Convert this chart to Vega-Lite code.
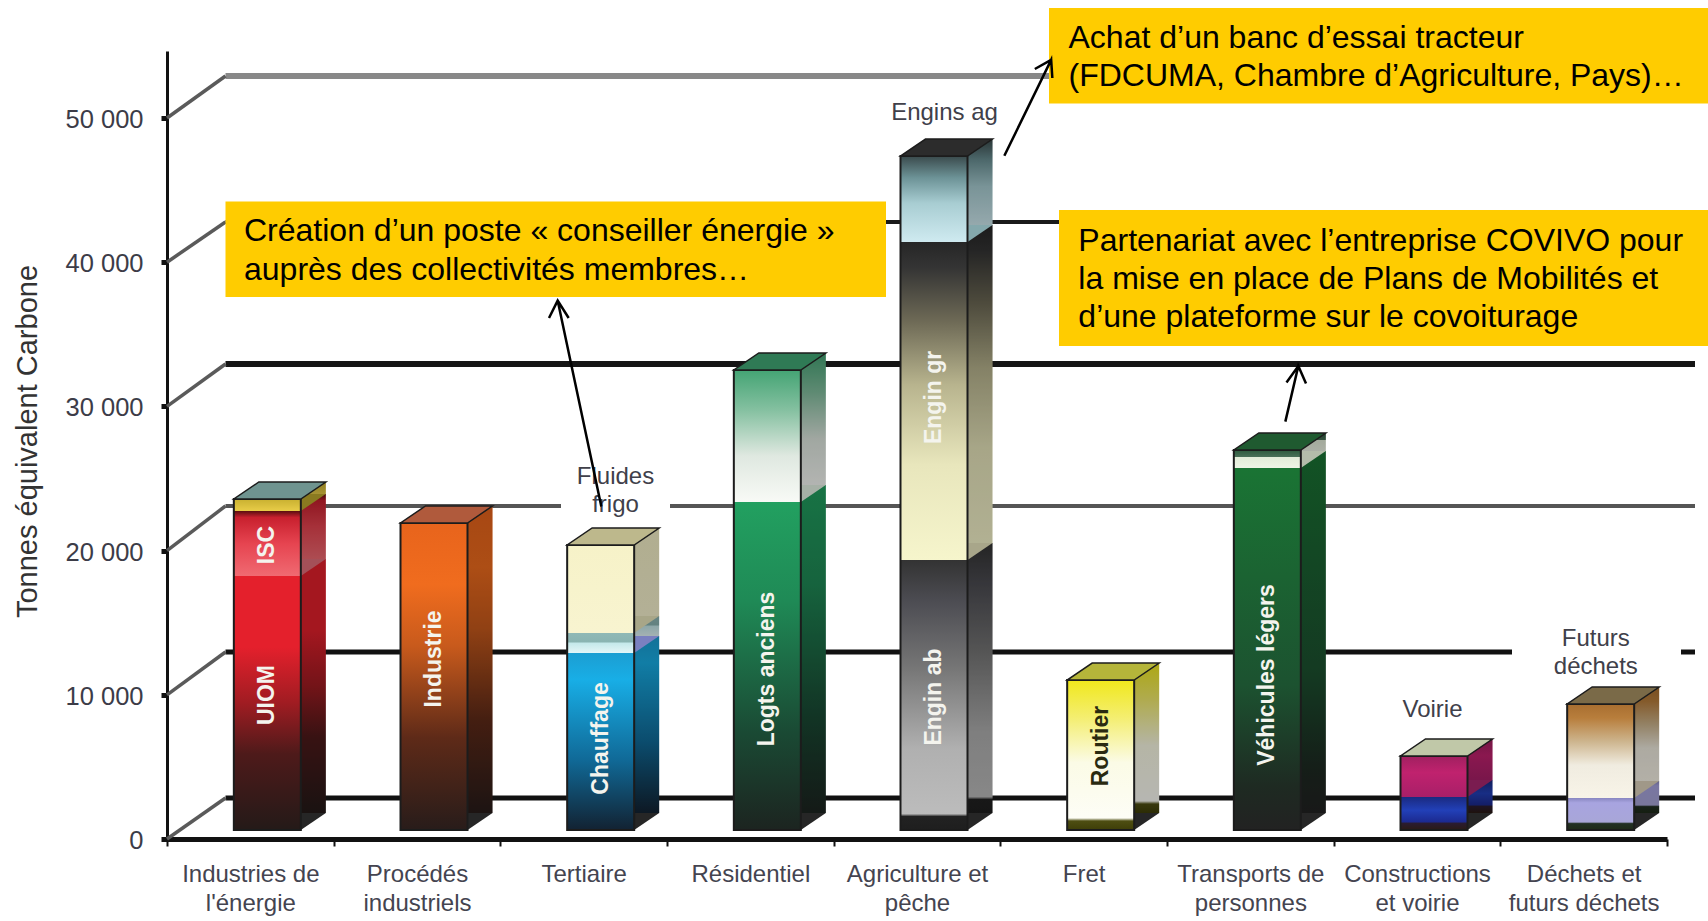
{
"$schema":"https://vega.github.io/schema/vega-lite/v6.json",
"width":1708,"height":921,"autosize":"none","padding":0,"background":"white",
"config":{"font":"Liberation Sans","view":{"stroke":null}},
"params":[
{"name":"gUIOM","expr":"{gradient:'linear',x1:0,y1:1,x2:0,y2:0,stops:[{offset:0,color:'#241a18'},{offset:0.3,color:'#4e1a1a'},{offset:0.5,color:'#a01c22'},{offset:0.72,color:'#e4202c'},{offset:1,color:'#e4202c'}]}"},
{"name":"gISC","expr":"{gradient:'linear',x1:0,y1:1,x2:0,y2:0,stops:[{offset:0,color:'#f06a72'},{offset:0.5,color:'#e64450'},{offset:0.9,color:'#c8202e'},{offset:1,color:'#5a0e10'}]}"},
{"name":"gJaune","expr":"{gradient:'linear',x1:0,y1:1,x2:0,y2:0,stops:[{offset:0,color:'#e8cc48'},{offset:1,color:'#c8b030'}]}"},
{"name":"gInd","expr":"{gradient:'linear',x1:0,y1:1,x2:0,y2:0,stops:[{offset:0,color:'#281c1a'},{offset:0.3,color:'#5e2a18'},{offset:0.6,color:'#c85a1c'},{offset:0.8,color:'#f06c1e'},{offset:1,color:'#e8641c'}]}"},
{"name":"gChauf","expr":"{gradient:'linear',x1:0,y1:1,x2:0,y2:0,stops:[{offset:0,color:'#122232'},{offset:0.4,color:'#106a98'},{offset:0.85,color:'#18aee6'},{offset:1,color:'#1c9ed2'}]}"},
{"name":"gFluide","expr":"{gradient:'linear',x1:0,y1:1,x2:0,y2:0,stops:[{offset:0,color:'#e4f6f8'},{offset:0.5,color:'#c4e8ea'},{offset:0.55,color:'#8ab4b2'},{offset:1,color:'#8fb8b6'}]}"},
{"name":"gFrigo","expr":"{gradient:'linear',x1:0,y1:1,x2:0,y2:0,stops:[{offset:0,color:'#f8f4d0'},{offset:1,color:'#f6f2c8'}]}"},
{"name":"gLogts","expr":"{gradient:'linear',x1:0,y1:1,x2:0,y2:0,stops:[{offset:0,color:'#1c2420'},{offset:0.3,color:'#1a4a34'},{offset:0.7,color:'#1f8a56'},{offset:1,color:'#22a060'}]}"},
{"name":"gLogtsH","expr":"{gradient:'linear',x1:0,y1:1,x2:0,y2:0,stops:[{offset:0,color:'#f8faf6'},{offset:0.35,color:'#dfe8e0'},{offset:0.7,color:'#84c0a0'},{offset:1,color:'#44a474'}]}"},
{"name":"gEnginB","expr":"{gradient:'linear',x1:0,y1:1,x2:0,y2:0,stops:[{offset:0,color:'#1e1e1e'},{offset:0.05,color:'#222222'},{offset:0.06,color:'#bcbcbc'},{offset:0.3,color:'#b0b0b0'},{offset:0.6,color:'#767676'},{offset:0.85,color:'#4c4c52'},{offset:1,color:'#333333'}]}"},
{"name":"gEnginM","expr":"{gradient:'linear',x1:0,y1:1,x2:0,y2:0,stops:[{offset:0,color:'#f6f5cc'},{offset:0.3,color:'#e8e6bc'},{offset:0.55,color:'#b8b48e'},{offset:0.75,color:'#6e6a56'},{offset:0.92,color:'#343434'},{offset:1,color:'#262626'}]}"},
{"name":"gEnginH","expr":"{gradient:'linear',x1:0,y1:1,x2:0,y2:0,stops:[{offset:0,color:'#cfeaf0'},{offset:0.45,color:'#a8cdd2'},{offset:0.75,color:'#6c9296'},{offset:1,color:'#3a4a4c'}]}"},
{"name":"gRoutier","expr":"{gradient:'linear',x1:0,y1:1,x2:0,y2:0,stops:[{offset:0,color:'#3e3e08'},{offset:0.06,color:'#4e4e12'},{offset:0.08,color:'#fdfdf6'},{offset:0.45,color:'#fbfbe6'},{offset:0.75,color:'#f4ee70'},{offset:1,color:'#f0e81c'}]}"},
{"name":"gVehic","expr":"{gradient:'linear',x1:0,y1:1,x2:0,y2:0,stops:[{offset:0,color:'#222222'},{offset:0.12,color:'#1e2a22'},{offset:0.4,color:'#1c5230'},{offset:1,color:'#1a7434'}]}"},
{"name":"gVehicH","expr":"{gradient:'linear',x1:0,y1:1,x2:0,y2:0,stops:[{offset:0,color:'#eef4e6'},{offset:0.6,color:'#e2ecd8'},{offset:0.62,color:'#4a7058'},{offset:1,color:'#2c5a3c'}]}"},
{"name":"gVoirieB","expr":"{gradient:'linear',x1:0,y1:1,x2:0,y2:0,stops:[{offset:0,color:'#2a1a14'},{offset:0.2,color:'#2a1c30'},{offset:0.25,color:'#1c2a90'},{offset:0.6,color:'#2240b8'},{offset:1,color:'#1a2a80'}]}"},
{"name":"gVoirieH","expr":"{gradient:'linear',x1:0,y1:1,x2:0,y2:0,stops:[{offset:0,color:'#a81f68'},{offset:0.6,color:'#c0226e'},{offset:1,color:'#a02060'}]}"},
{"name":"gDechB","expr":"{gradient:'linear',x1:0,y1:1,x2:0,y2:0,stops:[{offset:0,color:'#1e2a18'},{offset:0.2,color:'#223024'},{offset:0.25,color:'#a8a6d8'},{offset:0.85,color:'#a8a4e0'},{offset:1,color:'#8886c0'}]}"},
{"name":"gDechH","expr":"{gradient:'linear',x1:0,y1:1,x2:0,y2:0,stops:[{offset:0,color:'#f8f4e8'},{offset:0.35,color:'#f0ece0'},{offset:0.6,color:'#cdb58e'},{offset:0.85,color:'#b87e3c'},{offset:1,color:'#a86e30'}]}"}
],
"datasets":{
"cats":[
{"categorie":"Industries de|l'énergie","total":22954,"base":0,"sommet":"a"},
{"categorie":"Procédés|industriels","total":21290,"base":0,"sommet":"b"},
{"categorie":"Tertiaire","total":19764,"base":0,"sommet":"c"},
{"categorie":"Résidentiel","total":31900,"base":0,"sommet":"d"},
{"categorie":"Agriculture et|pêche","total":46740,"base":0,"sommet":"e"},
{"categorie":"Fret","total":10400,"base":0,"sommet":"f"},
{"categorie":"Transports de|personnes","total":26352,"base":0,"sommet":"g"},
{"categorie":"Constructions|et voirie","total":5132,"base":0,"sommet":"h"},
{"categorie":"Déchets et|futurs déchets","total":8738,"base":0,"sommet":"i"}
],
"segments":[
{"categorie":"Industries de|l'énergie","segment":"UIOM","debut":0,"fin":17614},
{"categorie":"Industries de|l'énergie","segment":"ISC","debut":17614,"fin":22122},
{"categorie":"Industries de|l'énergie","segment":"Autres","debut":22122,"fin":22954},
{"categorie":"Procédés|industriels","segment":"Industrie","debut":0,"fin":21290},
{"categorie":"Tertiaire","segment":"Chauffage","debut":0,"fin":12275},
{"categorie":"Tertiaire","segment":"Fluides","debut":12275,"fin":13660},
{"categorie":"Tertiaire","segment":"Frigo","debut":13660,"fin":19764},
{"categorie":"Résidentiel","segment":"Logts anciens","debut":0,"fin":22746},
{"categorie":"Résidentiel","segment":"Logts récents","debut":22746,"fin":31900},
{"categorie":"Agriculture et|pêche","segment":"Engin ab","debut":0,"fin":18724},
{"categorie":"Agriculture et|pêche","segment":"Engin gr","debut":18724,"fin":40776},
{"categorie":"Agriculture et|pêche","segment":"Engins ag","debut":40776,"fin":46740},
{"categorie":"Fret","segment":"Routier","debut":0,"fin":10400},
{"categorie":"Transports de|personnes","segment":"Véhicules légers","debut":0,"fin":25104},
{"categorie":"Transports de|personnes","segment":"Autres transports","debut":25104,"fin":26352},
{"categorie":"Constructions|et voirie","segment":"Voirie","debut":0,"fin":2288},
{"categorie":"Constructions|et voirie","segment":"Constructions","debut":2288,"fin":5132},
{"categorie":"Déchets et|futurs déchets","segment":"Futurs déchets","debut":0,"fin":2219},
{"categorie":"Déchets et|futurs déchets","segment":"Déchets","debut":2219,"fin":8738}
],
"jonctions":[
{"categorie":"Industries de|l'énergie","segment":"ISC","debut":17614},
{"categorie":"Industries de|l'énergie","segment":"Autres","debut":22122},
{"categorie":"Tertiaire","segment":"Fluides","debut":12275},
{"categorie":"Tertiaire","segment":"Frigo","debut":13660},
{"categorie":"Résidentiel","segment":"Logts récents","debut":22746},
{"categorie":"Agriculture et|pêche","segment":"Engin gr","debut":18724},
{"categorie":"Agriculture et|pêche","segment":"Engins ag","debut":40776},
{"categorie":"Transports de|personnes","segment":"Autres transports","debut":25104},
{"categorie":"Constructions|et voirie","segment":"Constructions","debut":2288},
{"categorie":"Déchets et|futurs déchets","segment":"Déchets","debut":2219}
],
"etiquettes":[
{"categorie":"Industries de|l'énergie","texte":"UIOM","v":9362},
{"categorie":"Industries de|l'énergie","texte":"ISC","v":19764},
{"categorie":"Procédés|industriels","texte":"Industrie","v":11859},
{"categorie":"Tertiaire","texte":"Chauffage","v":6345},
{"categorie":"Résidentiel","texte":"Logts anciens","v":11165},
{"categorie":"Agriculture et|pêche","texte":"Engin ab","v":9223},
{"categorie":"Agriculture et|pêche","texte":"Engin gr","v":30000},
{"categorie":"Fret","texte":"Routier","v":5825},
{"categorie":"Transports de|personnes","texte":"Véhicules légers","v":10749}
],
"dessus":[
{"texte":"Fluides","pos":2.691,"v":25104},
{"texte":"frigo","pos":2.691,"v":23134},
{"texte":"Engins ag","pos":4.665,"v":50326},
{"texte":"Voirie","pos":7.593,"v":8932},
{"texte":"Futurs","pos":8.573,"v":13900},
{"texte":"déchets","pos":8.573,"v":11900}
],
"grille":[
{"g":"0","de":0.351,"a":9.168,"v":2843},
{"g":"10000","de":0.351,"a":8.07,"v":12968},
{"g":"10000","de":9.084,"a":9.168,"v":12968},
{"g":"20000","de":0.351,"a":2.364,"v":23093},
{"g":"20000","de":3.018,"a":9.168,"v":23093},
{"g":"30000","de":0.351,"a":9.168,"v":32940},
{"g":"40000","de":0.351,"a":5.4,"v":42788},
{"g":"50000","de":0.351,"a":5.3,"v":52913}
],
"montants":[
{"g":"0","pos":0,"v":0},{"g":"0","pos":0.351,"v":2843},
{"g":"10000","pos":0,"v":10000},{"g":"10000","pos":0.351,"v":12968},
{"g":"20000","pos":0,"v":20000},{"g":"20000","pos":0.351,"v":23093},
{"g":"30000","pos":0,"v":30000},{"g":"30000","pos":0.351,"v":32940},
{"g":"40000","pos":0,"v":40000},{"g":"40000","pos":0.351,"v":42788},
{"g":"50000","pos":0,"v":50000},{"g":"50000","pos":0.351,"v":52913}
],
"encadres":[
{"id":"conseiller","de":0.351,"a":4.314,"haut":44209,"bas":37587},
{"id":"banc","de":5.292,"a":9.3,"haut":57628,"bas":51005},
{"id":"covivo","de":5.352,"a":9.3,"haut":43620,"bas":34189}
],
"textes":[
{"texte":"Création d’un poste « conseiller énergie »","pos":0.462,"v":42173},
{"texte":"auprès des collectivités membres…","pos":0.462,"v":39468},
{"texte":"Achat d’un banc d’essai tracteur","pos":5.409,"v":55557},
{"texte":"(FDCUMA, Chambre d’Agriculture, Pays)…","pos":5.409,"v":52922},
{"texte":"Partenariat avec l’entreprise COVIVO pour","pos":5.468,"v":41491},
{"texte":"la mise en place de  Plans de Mobilités et","pos":5.468,"v":38842},
{"texte":"d’une plateforme sur le covoiturage","pos":5.468,"v":36200}
],
"fleches":[
{"f":"a","o":1,"pos":2.292,"v":36130},{"f":"a","o":2,"pos":2.344,"v":37337},{"f":"a","o":3,"pos":2.41,"v":36130},{"f":"a","o":4,"pos":2.344,"v":37337},{"f":"a","o":5,"pos":2.606,"v":23059},
{"f":"b","o":1,"pos":5.207,"v":53398},{"f":"b","o":2,"pos":5.305,"v":54029},{"f":"b","o":3,"pos":5.312,"v":52774},{"f":"b","o":4,"pos":5.305,"v":54029},{"f":"b","o":5,"pos":5.024,"v":47379},
{"f":"c","o":1,"pos":6.717,"v":31664},{"f":"c","o":2,"pos":6.788,"v":32802},{"f":"c","o":3,"pos":6.834,"v":31595},{"f":"c","o":4,"pos":6.788,"v":32802},{"f":"c","o":5,"pos":6.71,"v":28946}
]
},
"resolve":{"scale":{"x":"independent","fill":"independent"}},
"layer":[
{"data":{"name":"grille"},"mark":{"type":"rule"},
 "encoding":{
  "x":{"field":"de","type":"quantitative","axis":null,"scale":{"domain":[0,9],"range":[167,1667],"nice":false,"zero":false}},
  "x2":{"field":"a"},
  "y":{"field":"v","type":"quantitative","title":"Tonnes équivalent Carbone","scale":{"domain":[0,54646],"range":[839,51],"nice":false},
   "axis":{"orient":"left","offset":-167,"values":[0,10000,20000,30000,40000,50000],"grid":false,
    "domainColor":"#111","domainWidth":3,"tickColor":"#111","tickWidth":5,"tickSize":6,
    "labelExpr":"replace(format(datum.value,','),',',' ')","labelFontSize":25.5,"labelColor":"#3c3c48","labelPadding":18,"labelOffset":1.5,
    "titleFontSize":29,"titleFontWeight":"normal","titleColor":"#333","titleX":-140,"titleY":441,"titleAngle":-90,"titleAlign":"center","titleBaseline":"middle"}},
  "stroke":{"field":"g","type":"nominal","legend":null,"scale":{"domain":["0","10000","20000","30000","40000","50000"],"range":["#111111","#111111","#555555","#151515","#1a1a1a","#888888"]}},
  "strokeWidth":{"field":"g","type":"ordinal","legend":null,"scale":{"type":"ordinal","domain":["0","10000","20000","30000","40000","50000"],"range":[5,5,4,6,4,6]}}
 }},
{"data":{"name":"montants"},"mark":{"type":"line","strokeWidth":3.5},
 "encoding":{
  "x":{"field":"pos","type":"quantitative","axis":null,"scale":{"domain":[0,9],"range":[167,1667],"nice":false,"zero":false}},
  "y":{"field":"v","type":"quantitative","scale":{"domain":[0,54646],"range":[839,51],"nice":false}},
  "detail":{"field":"g","type":"nominal"},
  "color":{"value":"#5a5a5a"}
 }},
{"data":{"name":"segments"},"mark":{"type":"bar","width":25,"xOffset":63,"yOffset":-26,"y2Offset":-26},
 "encoding":{
  "x":{"field":"categorie","type":"nominal","sort":null,"title":null,
   "scale":{"domain":["Industries de|l'énergie","Procédés|industriels","Tertiaire","Résidentiel","Agriculture et|pêche","Fret","Transports de|personnes","Constructions|et voirie","Déchets et|futurs déchets"],"range":[167,1667],"paddingInner":0,"paddingOuter":0},
   "axis":{"orient":"bottom","offset":-82,"labelAngle":0,"labelExpr":"split(datum.label,'|')","labelFontSize":24,"labelColor":"#444450","labelPadding":16,"labelLineHeight":29,"labelBaseline":"top","labelLimit":0,"domainColor":"#111","domainWidth":5,"tickColor":"#111","tickWidth":2,"tickSize":7,"tickBand":"extent","grid":false}},
  "y":{"field":"debut","type":"quantitative","scale":{"domain":[0,54646],"range":[839,51],"nice":false}},
  "y2":{"field":"fin"},
  "fill":{"field":"segment","type":"nominal","legend":null,"scale":{
   "domain":["UIOM","ISC","Autres","Industrie","Chauffage","Fluides","Frigo","Logts anciens","Logts récents","Engin ab","Engin gr","Engins ag","Routier","Véhicules légers","Autres transports","Voirie","Constructions","Futurs déchets","Déchets"],
   "range":[{"signal":"gUIOM"},{"signal":"gISC"},{"signal":"gJaune"},{"signal":"gInd"},{"signal":"gChauf"},{"signal":"gFluide"},{"signal":"gFrigo"},{"signal":"gLogts"},{"signal":"gLogtsH"},{"signal":"gEnginB"},{"signal":"gEnginM"},{"signal":"gEnginH"},{"signal":"gRoutier"},{"signal":"gVehic"},{"signal":"gVehicH"},{"signal":"gVoirieB"},{"signal":"gVoirieH"},{"signal":"gDechB"},{"signal":"gDechH"}]}}
 }},
{"data":{"name":"cats"},"mark":{"type":"bar","width":25,"xOffset":63,"yOffset":-26,"y2Offset":-26,"fill":"#000000","fillOpacity":0.28},
 "encoding":{
  "x":{"field":"categorie","type":"nominal","sort":null,"axis":null,"scale":{"domain":["Industries de|l'énergie","Procédés|industriels","Tertiaire","Résidentiel","Agriculture et|pêche","Fret","Transports de|personnes","Constructions|et voirie","Déchets et|futurs déchets"],"range":[167,1667],"paddingInner":0,"paddingOuter":0}},
  "y":{"field":"base","type":"quantitative","scale":{"domain":[0,54646],"range":[839,51],"nice":false}},
  "y2":{"field":"total"}
 }},
{"data":{"name":"cats"},"mark":{"type":"point","filled":true,"opacity":1,"size":4,"fill":"#262626","shape":"M50.5,-9 L75.5,-26 L50.5,-26 Z"},
 "encoding":{
  "x":{"field":"categorie","type":"nominal","sort":null,"axis":null,"scale":{"domain":["Industries de|l'énergie","Procédés|industriels","Tertiaire","Résidentiel","Agriculture et|pêche","Fret","Transports de|personnes","Constructions|et voirie","Déchets et|futurs déchets"],"range":[167,1667],"paddingInner":0,"paddingOuter":0}},
  "y":{"field":"base","type":"quantitative","scale":{"domain":[0,54646],"range":[839,51],"nice":false}}
 }},
{"data":{"name":"jonctions"},"mark":{"type":"point","filled":true,"opacity":1,"size":4,"shape":"M50.5,-9 L75.5,-26 L50.5,-26 Z"},
 "encoding":{
  "x":{"field":"categorie","type":"nominal","sort":null,"axis":null,"scale":{"domain":["Industries de|l'énergie","Procédés|industriels","Tertiaire","Résidentiel","Agriculture et|pêche","Fret","Transports de|personnes","Constructions|et voirie","Déchets et|futurs déchets"],"range":[167,1667],"paddingInner":0,"paddingOuter":0}},
  "y":{"field":"debut","type":"quantitative","scale":{"domain":[0,54646],"range":[839,51],"nice":false}},
  "fill":{"field":"segment","type":"nominal","legend":null,"scale":{
   "domain":["ISC","Autres","Fluides","Frigo","Logts récents","Engin gr","Engins ag","Autres transports","Constructions","Déchets"],
   "range":["#a45058","#8a7a20","#7a80c0","#a8a688","#a6b0a6","#a8a68a","#84a8ac","#b4bcaa","#7a1c50","#a09888"]}}
 }},
{"data":{"name":"segments"},"mark":{"type":"bar","width":67,"xOffset":17,"yOffset":-9,"y2Offset":-9},
 "encoding":{
  "x":{"field":"categorie","type":"nominal","sort":null,"axis":null,"scale":{"domain":["Industries de|l'énergie","Procédés|industriels","Tertiaire","Résidentiel","Agriculture et|pêche","Fret","Transports de|personnes","Constructions|et voirie","Déchets et|futurs déchets"],"range":[167,1667],"paddingInner":0,"paddingOuter":0}},
  "y":{"field":"debut","type":"quantitative","scale":{"domain":[0,54646],"range":[839,51],"nice":false}},
  "y2":{"field":"fin"},
  "fill":{"field":"segment","type":"nominal","legend":null,"scale":{
   "domain":["UIOM","ISC","Autres","Industrie","Chauffage","Fluides","Frigo","Logts anciens","Logts récents","Engin ab","Engin gr","Engins ag","Routier","Véhicules légers","Autres transports","Voirie","Constructions","Futurs déchets","Déchets"],
   "range":[{"signal":"gUIOM"},{"signal":"gISC"},{"signal":"gJaune"},{"signal":"gInd"},{"signal":"gChauf"},{"signal":"gFluide"},{"signal":"gFrigo"},{"signal":"gLogts"},{"signal":"gLogtsH"},{"signal":"gEnginB"},{"signal":"gEnginM"},{"signal":"gEnginH"},{"signal":"gRoutier"},{"signal":"gVehic"},{"signal":"gVehicH"},{"signal":"gVoirieB"},{"signal":"gVoirieH"},{"signal":"gDechB"},{"signal":"gDechH"}]}}
 }},
{"data":{"name":"cats"},"mark":{"type":"bar","width":67,"xOffset":17,"yOffset":-9,"y2Offset":-9,"fillOpacity":0,"stroke":"#1c1c1c","strokeWidth":2},
 "encoding":{
  "x":{"field":"categorie","type":"nominal","sort":null,"axis":null,"scale":{"domain":["Industries de|l'énergie","Procédés|industriels","Tertiaire","Résidentiel","Agriculture et|pêche","Fret","Transports de|personnes","Constructions|et voirie","Déchets et|futurs déchets"],"range":[167,1667],"paddingInner":0,"paddingOuter":0}},
  "y":{"field":"base","type":"quantitative","scale":{"domain":[0,54646],"range":[839,51],"nice":false}},
  "y2":{"field":"total"}
 }},
{"data":{"name":"cats"},"mark":{"type":"point","filled":true,"opacity":1,"size":4,"stroke":"#1c1c1c","strokeWidth":1.5,"shape":"M-16.5,-9 L50.5,-9 L75.5,-26 L8.5,-26 Z"},
 "encoding":{
  "x":{"field":"categorie","type":"nominal","sort":null,"axis":null,"scale":{"domain":["Industries de|l'énergie","Procédés|industriels","Tertiaire","Résidentiel","Agriculture et|pêche","Fret","Transports de|personnes","Constructions|et voirie","Déchets et|futurs déchets"],"range":[167,1667],"paddingInner":0,"paddingOuter":0}},
  "y":{"field":"total","type":"quantitative","scale":{"domain":[0,54646],"range":[839,51],"nice":false}},
  "fill":{"field":"sommet","type":"nominal","legend":null,"scale":{"domain":["a","b","c","d","e","f","g","h","i"],"range":["#6f9490","#b05a3c","#bdb88c","#2f7a55","#2c2c2c","#b5b53a","#1f5a30","#c0c8a8","#7a6a48"]}}
 }},
{"data":{"name":"etiquettes"},"mark":{"type":"text","angle":270,"fontSize":23,"fontWeight":"bold","xOffset":17,"yOffset":-9,"align":"center","baseline":"middle"},
 "encoding":{
  "x":{"field":"categorie","type":"nominal","sort":null,"axis":null,"scale":{"domain":["Industries de|l'énergie","Procédés|industriels","Tertiaire","Résidentiel","Agriculture et|pêche","Fret","Transports de|personnes","Constructions|et voirie","Déchets et|futurs déchets"],"range":[167,1667],"paddingInner":0,"paddingOuter":0}},
  "y":{"field":"v","type":"quantitative","scale":{"domain":[0,54646],"range":[839,51],"nice":false}},
  "text":{"field":"texte","type":"nominal"},
  "fill":{"condition":{"test":"datum.texte==='Routier'","value":"#2a2a10"},"value":"#f4f4ee"}
 }},
{"data":{"name":"dessus"},"mark":{"type":"text","fontSize":24,"align":"center","baseline":"middle","fill":"#40404a"},
 "encoding":{
  "x":{"field":"pos","type":"quantitative","axis":null,"scale":{"domain":[0,9],"range":[167,1667],"nice":false,"zero":false}},
  "y":{"field":"v","type":"quantitative","scale":{"domain":[0,54646],"range":[839,51],"nice":false}},
  "text":{"field":"texte","type":"nominal"}
 }},
{"data":{"name":"encadres"},"mark":{"type":"rect","fill":"#FFCC00"},
 "encoding":{
  "x":{"field":"de","type":"quantitative","axis":null,"scale":{"domain":[0,9],"range":[167,1667],"nice":false,"zero":false}},
  "x2":{"field":"a"},
  "y":{"field":"haut","type":"quantitative","scale":{"domain":[0,54646],"range":[839,51],"nice":false}},
  "y2":{"field":"bas"}
 }},
{"data":{"name":"textes"},"mark":{"type":"text","fontSize":32,"align":"left","baseline":"middle","fill":"#000000"},
 "encoding":{
  "x":{"field":"pos","type":"quantitative","axis":null,"scale":{"domain":[0,9],"range":[167,1667],"nice":false,"zero":false}},
  "y":{"field":"v","type":"quantitative","scale":{"domain":[0,54646],"range":[839,51],"nice":false}},
  "text":{"field":"texte","type":"nominal"}
 }},
{"data":{"name":"fleches"},"mark":{"type":"line","stroke":"#000000","strokeWidth":2.5},
 "encoding":{
  "x":{"field":"pos","type":"quantitative","axis":null,"scale":{"domain":[0,9],"range":[167,1667],"nice":false,"zero":false}},
  "y":{"field":"v","type":"quantitative","scale":{"domain":[0,54646],"range":[839,51],"nice":false}},
  "detail":{"field":"f","type":"nominal"},
  "order":{"field":"o","type":"quantitative"}
 }}
]
}
